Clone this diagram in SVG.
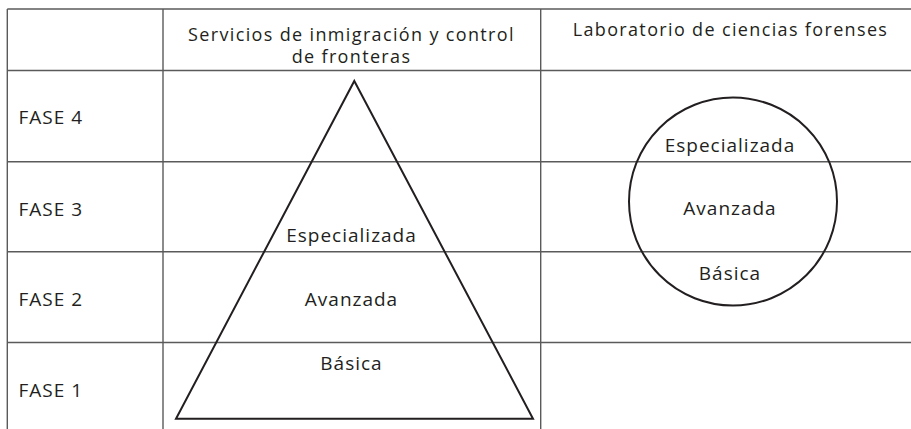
<svg xmlns="http://www.w3.org/2000/svg" width="911" height="429" viewBox="0 0 911 429">
<style>
.grid{stroke:#5a5a5a;stroke-width:1.4;fill:none}
.shape{stroke:#231f20;stroke-width:2;fill:none}
text{font-family:"Open Sans","Noto Sans","DejaVu Sans",sans-serif;font-size:19px;letter-spacing:1px;fill:#231f20}
.h{font-size:18px;letter-spacing:1.35px}
.c{text-anchor:middle}
</style>
<rect width="911" height="429" fill="#ffffff"/>
<g id="table">
<line class="grid" x1="7.3" y1="9" x2="911" y2="9"/>
<line class="grid" x1="7.3" y1="70.5" x2="911" y2="70.5"/>
<line class="grid" x1="7.3" y1="161.7" x2="911" y2="161.7"/>
<line class="grid" x1="7.3" y1="251.7" x2="911" y2="251.7"/>
<line class="grid" x1="7.3" y1="342.5" x2="911" y2="342.5"/>
<line class="grid" x1="7.3" y1="9" x2="7.3" y2="429"/>
<line class="grid" x1="163" y1="9" x2="163" y2="429"/>
<line class="grid" x1="540.7" y1="9" x2="540.7" y2="429"/>
</g>
<g id="headers">
<text class="c h" x="351.5" y="40.5">Servicios de inmigración y control</text>
<text class="c h" x="351.5" y="63">de fronteras</text>
<text class="c h" x="730.5" y="35.5">Laboratorio de ciencias forenses</text>
</g>
<g id="phases">
<text x="18.5" y="124.3">FASE 4</text>
<text x="18.5" y="215.5">FASE 3</text>
<text x="18.5" y="305.5">FASE 2</text>
<text x="18.5" y="397">FASE 1</text>
</g>
<g id="pyramid">
<polygon class="shape" points="354.3,81 533,418.7 176,418.7"/>
<text class="c" x="351.5" y="242">Especializada</text>
<text class="c" x="351.5" y="305.5">Avanzada</text>
<text class="c" x="351.5" y="370">Básica</text>
</g>
<g id="circle">
<circle class="shape" cx="733" cy="201.5" r="104"/>
<text class="c" x="730" y="151.5">Especializada</text>
<text class="c" x="730" y="215">Avanzada</text>
<text class="c" x="730" y="280">Básica</text>
</g>
</svg>
